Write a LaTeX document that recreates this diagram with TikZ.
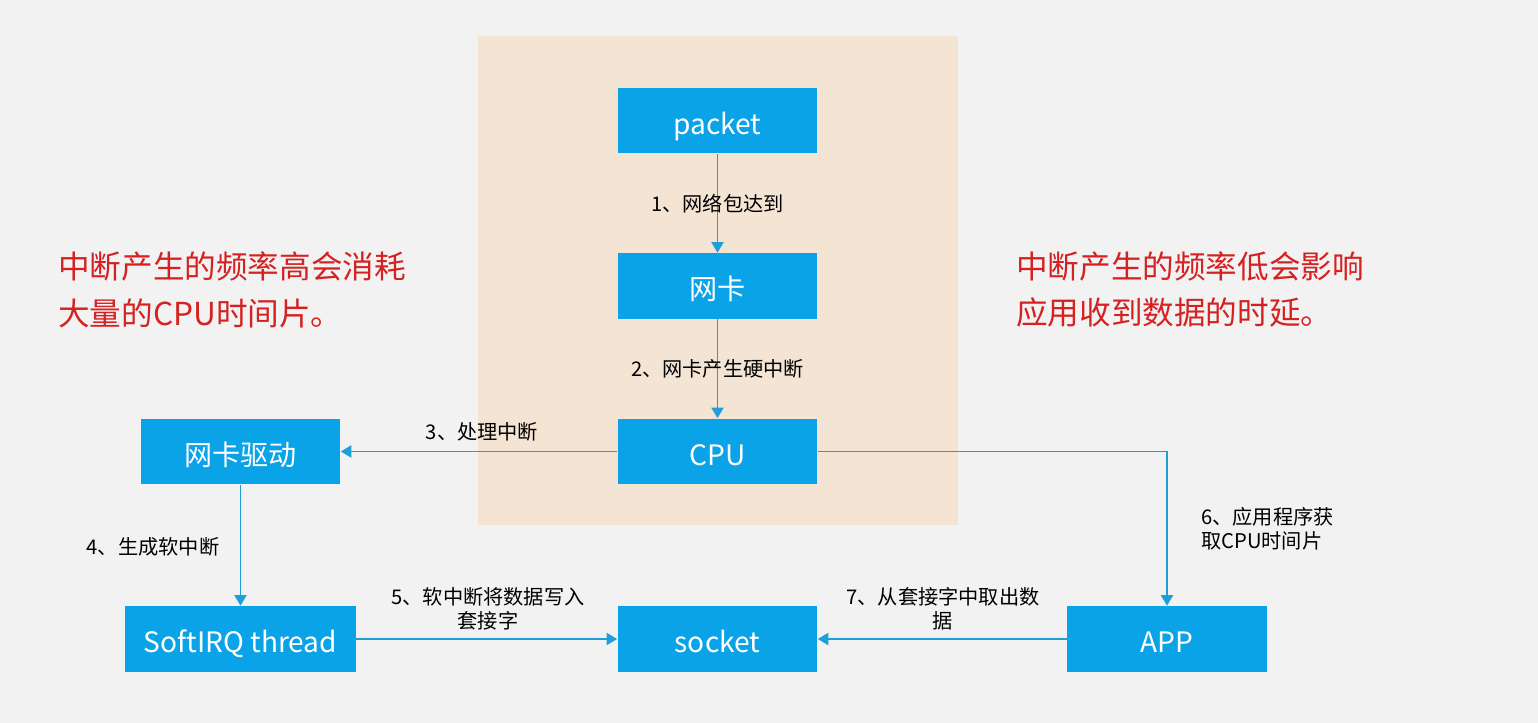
\documentclass[tikz,border=0pt]{standalone}
\usepackage{fontspec}
\setmainfont{Noto Sans CJK SC}
\usetikzlibrary{arrows.meta}
\definecolor{boxblue}{HTML}{0AA3E8}
\definecolor{lineblue}{HTML}{1E9FD8}
\definecolor{peach}{HTML}{F3E4D4}
\definecolor{bggray}{HTML}{F2F2F2}
\definecolor{warnred}{HTML}{D42222}
\tikzset{every picture/.style = {x=0.02cm, y=-0.02cm}}
\tikzset{box/.style = {fill=boxblue, text=white, minimum width=4cm, minimum height=1.32cm, inner sep=0, text height=16.4pt, text depth=1pt, font=\fontsize{16}{16}\selectfont}}
\tikzset{flow/.style = {lineblue, line width=0.7pt, -{Triangle[length=6pt, width=7pt]}}}
\tikzset{note/.style = {black, font=\fontsize{11.5}{13.5}\selectfont, align=center}}
\tikzset{warn/.style = {warnred, font=\fontsize{18}{26.7}\selectfont, align=left, anchor=west}}

\begin{document}
\begin{tikzpicture}
  \fill[bggray] (0, 0) rectangle (1538, 723);
  \useasboundingbox (0, 0) rectangle (1538, 723);
  \fill[peach] (478, 36) rectangle (958, 525);

  \node[box] (packet) at (717.5, 120.5) {packet};
  \node[box] (nic) at (717.5, 286) {网卡};
  \node[box] (cpu) at (717.5, 451.5) {CPU};
  \node[box] (driver) at (240.5, 451.5) {网卡驱动};
  \node[box, minimum width=4.62cm] (softirq) at (240.5, 639) {SoftIRQ thread};
  \node[box] (socket) at (717.5, 639) {socket};
  \node[box] (app) at (1167, 639) {APP};

  \draw[flow] (packet) -- (nic) node[note, pos=0.5]{1、网络包达到};
  \draw[flow] (nic) -- (cpu) node[note, pos=0.5]{2、网卡产生硬中断};
  \draw[flow] (cpu) -- (driver);
  \draw[flow] (driver) -- (softirq);
  \draw[flow] (softirq) -- (socket);
  \draw[flow] (cpu.east) -| (app.north);
  \draw[flow] (app) -- (socket);

  \node[note] (l3) at (482, 432) {3、处理中断};
  \node[note] (l4) at (153, 547) {4、生成软中断};
  \node[note] (l5) at (488, 609) {5、软中断将数据写入\\套接字};
  \node[note, align=left, anchor=west] (l6) at (1195, 529) {6、应用程序获\\取CPU时间片};
  \node[note] (l7) at (943, 609) {7、从套接字中取出数\\据};

  \node[warn] (high) at (52, 289.5) {中断产生的频率高会消耗\\大量的CPU时间片。};
  \node[warn] (low) at (1010, 289.5) {中断产生的频率低会影响\\应用收到数据的时延。};
\end{tikzpicture}
\end{document}
